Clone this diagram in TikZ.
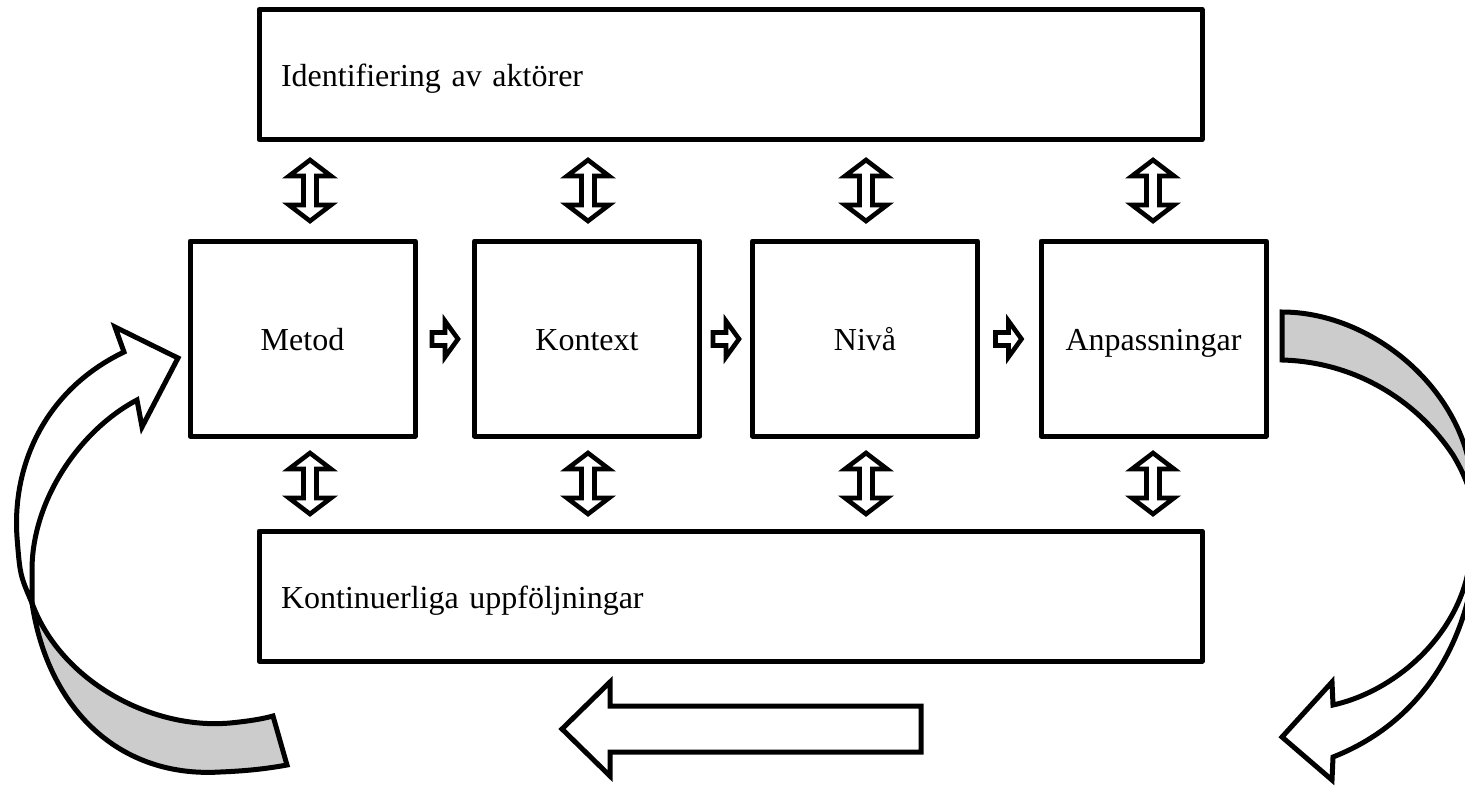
\documentclass[tikz,border=0pt]{standalone}
\usepackage{fontspec}
\setmainfont{Liberation Serif}
\definecolor{backgray}{HTML}{CCCCCC}
\tikzset{
  every node/.style={font=\fontsize{16}{19}\selectfont, text height=12pt, text depth=0pt},
  stage/.style={draw, line width=2.5pt, line join=round, minimum width=112.5pt, minimum height=97.5pt, inner sep=0pt},
  band/.style={draw, line width=2.5pt, line join=round, minimum height=65pt, text width=449.5pt, inner xsep=11pt, align=left},
  hollow/.style={draw, line width=2.5pt, line join=miter, fill=white},
  updown/.pic={\draw[hollow,line width=2.3pt] (0,-30.5) -- (21,-14.5) -- (6.5,-14.5) -- (6.5,14.5) -- (21,14.5) -- (0,30.5)
    -- (-21,14.5) -- (-6.5,14.5) -- (-6.5,-14.5) -- (-21,-14.5) -- cycle;},
  nextstep/.pic={\draw[hollow,line width=2.3pt] (-13,-6.5) -- (0,-6.5) -- (0,-18) -- (13,0) -- (0,18) -- (0,6.5) -- (-13,6.5) -- cycle;}
}
\begin{document}
\begin{tikzpicture}[x=0.5pt,y=-0.5pt]
  \useasboundingbox (0,0) rectangle (1465,787);
  \clip (0,0) rectangle (1465,787);

  \node[band] (aktorer) at (730.5,74.5) {Identifiering av aktörer};
  \node[stage] (metod) at (302.5,338.5) {Metod};
  \node[stage] (kontext) at (587,338.5) {Kontext};
  \node[stage] (niva) at (865,338.5) {Nivå};
  \node[stage] (anpass) at (1153.5,338.5) {Anpassningar};
  \node[band] (uppfolj) at (730.5,596) {Kontinuerliga uppföljningar};

  \foreach \x in {310,588,866,1153} {
    \pic at (\x,190.5) {updown};
    \pic at (\x,483.5) {updown};
  }
  \foreach \x in {445,726,1008.5}
    \pic at (\x,339) {nextstep};

  % arrow back below the bands
  \draw[hollow] (562,729) -- (610,682) -- (610,706) -- (921,706) -- (921,752) -- (610,752) -- (610,776) -- cycle;

  % curved arrow on the left
  \coordinate (lpinch) at (32,603);
  \draw[hollow,fill=backgray] (lpinch) .. controls (48,710) and (120,778) .. (220,772)
    .. controls (245,771) and (265,769) .. (287,765) -- (273,716)
    .. controls (262,719) and (250,721) .. (230,723) .. controls (150,730) and (60,680) .. (lpinch) -- cycle;
  \draw[hollow] (lpinch) .. controls (20,575) .. (17,537) .. controls (12,465) and (45,390) .. (124,352)
    -- (115,327) -- (178,358) -- (142,427) -- (137,400)
    .. controls (80,430) and (32,500) .. (32,570) -- (lpinch) -- cycle;

  % curved arrow on the right
  \coordinate (rpinch) at (1476,520);
  \draw[hollow,fill=backgray] (1282,312) .. controls (1360,312) and (1440,370) .. (1465,447)
    .. controls (1472,470) and (1476,495) .. (rpinch)
    .. controls (1472,490) and (1462,470) .. (1453,455) .. controls (1420,405) and (1360,362) .. (1282,360) -- cycle;
  \draw[hollow] (rpinch) .. controls (1480,610) and (1440,715) .. (1333,757)
    -- (1332,780) -- (1282,737) -- (1332,682) -- (1333,705)
    .. controls (1400,690) and (1462,630) .. (1470,560) .. controls (1473,540) .. (rpinch) -- cycle;
\end{tikzpicture}
\end{document}
